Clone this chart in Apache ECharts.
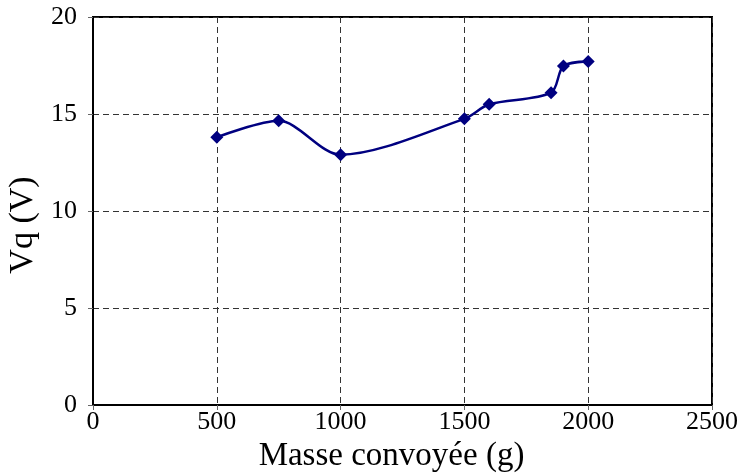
<!DOCTYPE html>
<html>
<head>
<meta charset="utf-8">
<script src="https://cdn.jsdelivr.net/npm/echarts@6/dist/echarts.min.js"></script>
<style>
  html, body { margin: 0; padding: 0; background: #fff; }
  #chart { width: 742px; height: 474px; }
</style>
</head>
<body>
<div id="chart"></div>
<script>
var masse = [500, 750, 1000, 1500, 1600, 1850, 1900, 2000]
var vq = [13.8, 14.65, 12.9, 14.75, 15.5, 16.1, 17.47, 17.7]

var pts = masse.map(function (m, i) { return [m, vq[i]] })
var serif = '"Liberation Serif", "DejaVu Serif", serif'

var chart = echarts.init(document.getElementById('chart'))
chart.setOption({
  animation: false,
  grid: {
    left: 93, right: 30, top: 17, bottom: 69,
    containLabel: false, outerBoundsMode: 'none',
    show: true, borderColor: '#000', borderWidth: 2, backgroundColor: 'transparent'
  },
  xAxis: {
    type: 'value', min: 0, max: 2500, interval: 500,
    name: 'Masse convoyée (g)', nameLocation: 'middle', nameGap: 34,
    nameTextStyle: { fontFamily: serif, fontSize: 33, color: '#000', padding: [0, 22, 0, 0] },
    axisLine: { show: true, lineStyle: { color: '#000', width: 2 } },
    axisTick: { show: true, length: 5, lineStyle: { color: '#666' } },
    axisLabel: { fontFamily: serif, fontSize: 26, color: '#000', margin: 4,
      formatter: function (v) { return String(v) } },
    splitLine: { show: true, lineStyle: { type: [6, 4], color: '#333', width: 1 } }
  },
  yAxis: {
    type: 'value', min: 0, max: 20, interval: 5,
    name: 'Vq (V)', nameLocation: 'middle', nameGap: 47,
    nameTextStyle: { fontFamily: serif, fontSize: 34, color: '#000', padding: [0, 28, 0, 0] },
    axisLine: { show: true, lineStyle: { color: '#000', width: 2 } },
    axisTick: { show: true, length: 5, lineStyle: { color: '#666' } },
    axisLabel: { fontFamily: serif, fontSize: 26, color: '#000', margin: 16 },
    splitLine: { show: true, lineStyle: { type: [6, 4], color: '#333', width: 1 } }
  },
  series: [{
    type: 'line',
    data: pts,
    smooth: 0.3,
    symbol: 'diamond',
    symbolSize: 13,
    lineStyle: { color: '#000080', width: 2.5 },
    itemStyle: { color: '#000080' }
  }]
})
</script>
</body>
</html>
